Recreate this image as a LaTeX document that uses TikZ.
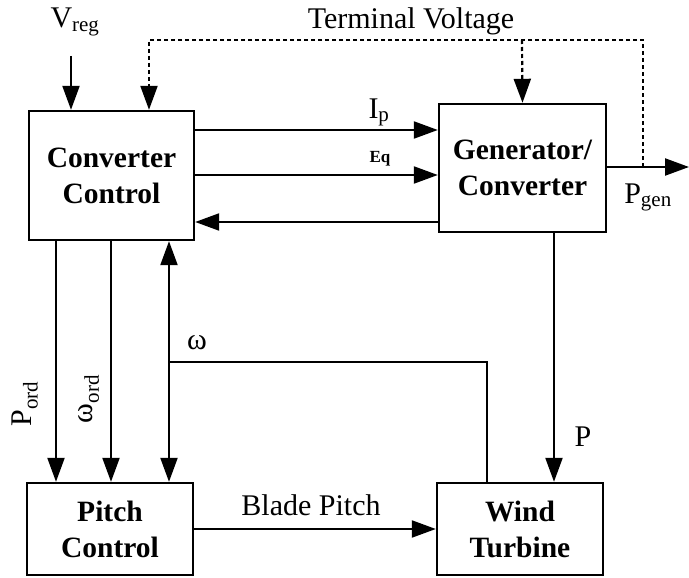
\documentclass[tikz,border=0pt]{standalone}
\usepackage{fontspec}
\setmainfont{Liberation Serif}
\usetikzlibrary{arrows.meta}

\begin{document}
\begin{tikzpicture}[x=1pt, y=-1pt]
    \tikzset{
        block/.style={draw, line width=2.4pt, align=center, inner sep=0pt,
            font=\fontsize{29.5}{36}\selectfont\bfseries},
        sig/.style={line width=2.2pt, -{Triangle[length=24pt, width=17pt]}},
        bisig/.style={line width=2.2pt, {Triangle[length=24pt, width=17pt]}-{Triangle[length=24pt, width=17pt]}},
        wire/.style={line width=2.2pt},
        dotsig/.style={sig, dash pattern=on 4pt off 3pt},
        lbl/.style={font=\fontsize{30}{34}\selectfont, inner sep=0pt}
    }
    \useasboundingbox (0,0) rectangle (689,578);

    % Blocs
    \node[block, minimum width=165pt, minimum height=129pt] (cc) at (111.5,175.5) {Converter\\Control};
    \node[block, minimum width=167pt, minimum height=128pt] (gen) at (522.5,168) {Generator/\\Converter};
    \node[block, minimum width=166pt, minimum height=92pt] (pc) at (110,529) {Pitch\\Control};
    \node[block, minimum width=166pt, minimum height=92pt] (wt) at (520,529) {Wind\\Turbine};

    % Points auxiliaires
    \coordinate (vin) at (71,56);
    \coordinate (tap) at (643,167);
    \coordinate (tv) at (522,40);
    \coordinate (pout) at (689,167);
    \coordinate (wj) at (169,362);

    % Entree V_reg
    \node[lbl, anchor=base] (vreg) at (75,28) {V\textsubscript{reg}};
    \draw[sig] (vin) -- (vin |- cc.north);

    % Tension terminale (pointilles)
    \node[lbl, anchor=base] (tvl) at (411,29) {Terminal Voltage};
    \draw[dotsig] (tap) |- (tv) -| (cc.north -| 149,0);
    \draw[dotsig] (tv) -- (gen.north);

    % Liaisons Converter Control <-> Generator
    \draw[sig] (cc.east |- 0,130) -- (gen.west |- 0,130);
    \node[lbl, anchor=base] (ip) at (379,118) {I\textsubscript{p}};
    \draw[sig] (cc.east |- 0,175) -- (gen.west |- 0,175);
    \node[lbl, anchor=base, font=\fontsize{17}{19}\selectfont\bfseries] (eq) at (380,163) {Eq};
    \draw[sig] (gen.west |- 0,222) -- (cc.east |- 0,222);

    % Sortie P_gen
    \draw[sig] (gen.east |- pout) -- (pout);
    \node[lbl, anchor=base] (pgen) at (648,203) {P\textsubscript{gen}};

    % Vers Pitch Control
    \draw[sig] (cc.south -| 56,0) -- (pc.north -| 56,0);
    \node[lbl, rotate=90] (pord) at (25,404) {P\textsubscript{ord}};
    \draw[sig] (cc.south -| 111,0) -- (pc.north -| 111,0);
    \node[lbl, rotate=90] (word) at (89,399) {ω\textsubscript{ord}};
    \draw[bisig] (cc.south -| 169,0) -- (pc.north -| 169,0);

    % Vitesse omega depuis la turbine
    \draw[wire] (wj) -| (wt.north -| 487,0);
    \node[lbl] (om) at (197,343) {ω};

    % Puissance P
    \draw[sig] (gen.south -| 554,0) -- (wt.north -| 554,0);
    \node[lbl] (pl) at (583,437) {P};

    % Blade Pitch
    \draw[sig] (pc) -- (wt);
    \node[lbl, anchor=base] (bp) at (311,515) {Blade Pitch};
\end{tikzpicture}
\end{document}
